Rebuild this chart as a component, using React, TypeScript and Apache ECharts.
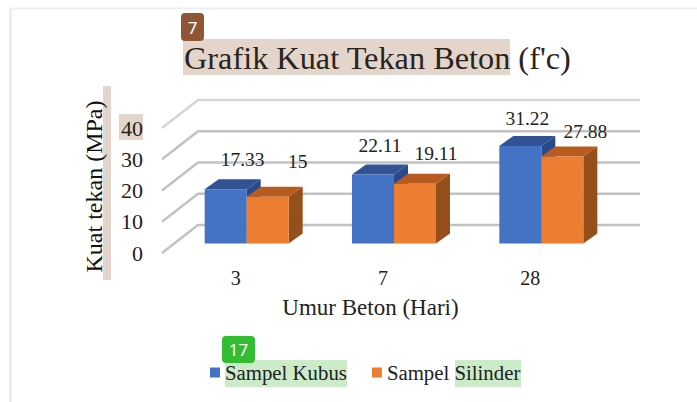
import React, { useEffect, useRef } from "react";
import * as echarts from "echarts";

const categories = ["3", "7", "28"];
const kubus = [17.33, 22.11, 31.22];
const silinder = [15, 19.11, 27.88];
const wallTicks = [0, 10, 20, 30, 40];
const kubusNudge = [[17, -30], [7, -29], [7, -27]];
const silinderNudge = [[30, -35], [21, -30], [23, -25]];

const SERIF = "Liberation Serif";
const INK = "#222222";
const FLOOR = [11, -9.5];
const DEPTH = [14, -10];
const WALL = [36, -28];
const BAR_W = 42;

function barRender(sign: number, colors: string[], nudge: number[][]) {
  return (params: any, api: any) => {
    const i = api.value(0);
    const v = api.value(1);
    const base = api.coord([i, 0]);
    const top = api.coord([i, v]);
    const x0 = base[0] + FLOOR[0] + (sign < 0 ? -BAR_W : 0);
    const x1 = x0 + BAR_W;
    const y0 = base[1] + FLOOR[1];
    const y1 = top[1] + FLOOR[1];
    const [dx, dy] = DEPTH;
    const [nx, ny] = nudge[i];
    return {
      type: "group",
      children: [
        { type: "polygon", shape: { points: [[x0, y1], [x0 + dx, y1 + dy], [x1 + dx, y1 + dy], [x1, y1]] }, style: { fill: colors[1] } },
        { type: "polygon", shape: { points: [[x1, y1], [x1 + dx, y1 + dy], [x1 + dx, y0 + dy], [x1, y0]] }, style: { fill: colors[2] } },
        { type: "rect", shape: { x: x0, y: y1, width: BAR_W, height: y0 - y1 }, style: { fill: colors[0] } },
        {
          type: "text",
          x: (x0 + x1) / 2 + nx,
          y: y1 + ny,
          style: { text: String(v), fill: INK, fontFamily: SERIF, fontSize: 19.5, align: "center", verticalAlign: "middle" },
        },
      ],
    };
  };
}

function wallRender(params: any, api: any) {
  const v = api.value(1);
  const front = api.coord([0, v]);
  const cs = params.coordSys;
  const fx = cs.x;
  const fy = front[1];
  const bx = fx + WALL[0];
  const by = fy + WALL[1];
  return {
    type: "polyline",
    shape: { points: [[fx, fy], [bx, by], [640, by]] },
    style: { fill: "none", stroke: v === 40 ? "#D6D6D6" : "#C2C2C2", lineWidth: 2.5 },
  };
}

const badge = (x: number, y: number, w: number, h: number, fill: string, text: string) => ({
  type: "group",
  z: 20,
  children: [
    { type: "rect", shape: { x, y, width: w, height: h, r: 4 }, style: { fill } },
    {
      type: "text",
      x: x + w / 2,
      y: y + h / 2,
      style: { text, fill: "#FFFFFF", fontFamily: "Noto Sans", fontSize: 17, align: "center", verticalAlign: "middle" },
    },
  ],
});

const hl = (x: number, y: number, w: number, h: number, fill: string) => ({
  type: "rect",
  z: 0,
  shape: { x, y, width: w, height: h },
  style: { fill },
});

export default function App() {
  const ref = useRef<HTMLDivElement>(null);
  useEffect(() => {
    const chart = echarts.init(ref.current!, undefined, { renderer: "svg" });
    chart.setOption({
      animation: false,
      backgroundColor: "#FFFFFF",
      title: {
        text: "Grafik Kuat Tekan Beton (f'c)",
        left: 184,
        top: 42,
        padding: 0,
        textStyle: { fontFamily: SERIF, fontSize: 32.3, fontWeight: "normal", color: "#2A2420" },
      },
      grid: { left: 162, top: 128, width: 442, height: 125 },
      xAxis: {
        type: "category",
        data: categories,
        name: "Umur Beton (Hari)",
        nameLocation: "middle",
        nameGap: 43,
        nameTextStyle: { fontFamily: SERIF, fontSize: 23, color: INK, padding: [0, 25, 0, 0] },
        axisLine: { show: false },
        axisTick: { show: false },
        axisLabel: { margin: 15, fontFamily: SERIF, fontSize: 20, color: INK },
      },
      yAxis: {
        type: "value",
        min: 0,
        max: 40,
        interval: 10,
        name: "Kuat tekan (MPa)",
        nameLocation: "middle",
        nameGap: 56,
        nameTextStyle: { fontFamily: SERIF, fontSize: 24, color: "#111111", padding: [0, 0, 0, 8] },
        splitLine: { show: false },
        axisLine: { show: false },
        axisTick: { show: false },
        axisLabel: { margin: 19, fontFamily: SERIF, fontSize: 22, color: INK },
      },
      legend: {
        data: ["Sampel Kubus", "Sampel Silinder"],
        left: 210,
        top: 362,
        padding: 0,
        itemWidth: 10,
        itemHeight: 10,
        itemGap: 25,
        icon: "rect",
        textStyle: { fontFamily: SERIF, fontSize: 20.8, color: INK },
      },
      graphic: [
        { type: "line", z: 0, shape: { x1: 10.5, y1: 8, x2: 10.5, y2: 402 }, style: { stroke: "#E6E6E6", lineWidth: 2 } },
        { type: "line", z: 0, shape: { x1: 10, y1: 8.5, x2: 697, y2: 8.5 }, style: { stroke: "#EEEEEE", lineWidth: 2 } },
        hl(183, 39, 327, 36, "#E3D5CC"),
        hl(103, 86, 8, 194, "#E3D5CC"),
        hl(119, 114, 24, 26, "#E3D5CC"),
        hl(225, 360, 122, 27, "#CBEBC9"),
        hl(455, 360, 66, 27, "#CBEBC9"),
        badge(181, 13, 23, 28, "#8F5636", "7"),
        badge(222, 336, 33, 27, "#32BC32", "17"),
      ],
      series: [
        {
          type: "custom",
          name: "wall",
          silent: true,
          z: 1,
          data: wallTicks.map((v) => [0, v]),
          renderItem: wallRender,
          clip: false,
        },
        {
          type: "custom",
          name: "Sampel Kubus",
          z: 3,
          itemStyle: { color: "#4472C4" },
          data: kubus.map((v, i) => [i, v]),
          renderItem: barRender(-1, ["#4472C4", "#315394", "#284A8C"], kubusNudge),
          clip: false,
        },
        {
          type: "custom",
          name: "Sampel Silinder",
          z: 4,
          itemStyle: { color: "#ED7D31" },
          data: silinder.map((v, i) => [i, v]),
          renderItem: barRender(1, ["#ED7D31", "#B85B20", "#954F1A"], silinderNudge),
          clip: false,
        },
      ],
    });
    return () => chart.dispose();
  }, []);
  return <div ref={ref} style={{ position: "fixed", left: 0, top: 0, width: 697, height: 402 }} />;
}
